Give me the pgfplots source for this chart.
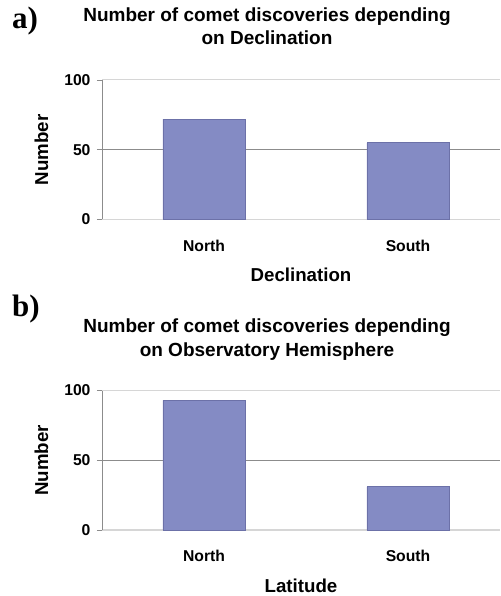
\documentclass[border=0pt]{standalone}
\usepackage{pgfplots}
\pgfplotsset{compat=1.18}
\usepackage{fontspec}
\setmainfont{Liberation Sans}
\newfontfamily\timesfont{Liberation Serif}
\definecolor{barfill}{HTML}{848BC4}
\definecolor{bardraw}{HTML}{6C71A8}
\definecolor{gridmid}{HTML}{8C8C8C}
\definecolor{gridlight}{HTML}{D6D6D6}
\definecolor{axisgray}{HTML}{8C8C8C}
\pgfplotsset{
  panel/.style={
    scale only axis,
    width=398pt, height=139.5pt,
    anchor=south west,
    xmin=-0.5, xmax=1.451,
    ymin=0, ymax=100,
    axis x line*=bottom,
    axis y line*=left,
    x axis line style={draw=gridlight, line width=1.2pt, -},
    y axis line style={draw=axisgray, line width=0.9pt, -},
    ybar, bar width=82pt,
    xtick={0,1}, xticklabels={North,South},
    major x tick style={draw=none},
    extra x ticks={0.5}, extra x tick labels={},
    extra x tick style={major tick length=4pt, tick style={draw=gridlight, line width=0.8pt}, tick align=outside},
    ytick={50},
    extra y ticks={0,100},
    ymajorgrids,
    major grid style={draw=gridmid, line width=0.9pt},
    extra y tick style={major grid style={draw=gridlight, line width=1pt}},
    tick align=outside, major tick length=5pt,
    ytick style={draw=axisgray, line width=0.8pt},
    /pgf/number format/assume math mode=true,
    yticklabel style={font=\bfseries\fontsize{15.7}{18}\selectfont, xshift=-3pt},
    xticklabel style={font=\bfseries\fontsize{15.7}{18}\selectfont, yshift=-12pt},
    xlabel style={font=\bfseries\fontsize{18.7}{22}\selectfont, yshift=-1pt},
    ylabel style={font=\bfseries\fontsize{18.7}{22}\selectfont, yshift=4pt},
    ylabel={Number},
    clip=false,
  }
}
\begin{document}
\begin{tikzpicture}[x=1pt,y=1pt]
\path[use as bounding box] (0,0) rectangle (500,596);
% panel a
\node[anchor=base west, font=\timesfont\bfseries\fontsize{31}{34}\selectfont, inner sep=0pt] at (12,567.5) {a)};
\node[anchor=base, font=\bfseries\fontsize{19}{22}\selectfont, inner sep=0pt] at (267,574) {Number of comet discoveries depending};
\node[anchor=base, font=\bfseries\fontsize{19}{22}\selectfont, inner sep=0pt] at (267,551) {on Declination};
\begin{axis}[panel, at={(102pt,376.5pt)}, xlabel={Declination}]
\addplot[fill=barfill, draw=bardraw, line width=0.6pt] coordinates {(0,72) (1,55)};
\end{axis}
% panel b
\node[anchor=base west, font=\timesfont\bfseries\fontsize{31}{34}\selectfont, inner sep=0pt] at (12,279.3) {b)};
\node[anchor=base, font=\bfseries\fontsize{19}{22}\selectfont, inner sep=0pt] at (267,263.3) {Number of comet discoveries depending};
\node[anchor=base, font=\bfseries\fontsize{19}{22}\selectfont, inner sep=0pt] at (267,239.3) {on Observatory Hemisphere};
\begin{axis}[panel, at={(102pt,66pt)}, xlabel={Latitude}]
\addplot[fill=barfill, draw=bardraw, line width=0.6pt] coordinates {(0,93) (1,31)};
\end{axis}
\end{tikzpicture}
\end{document}
